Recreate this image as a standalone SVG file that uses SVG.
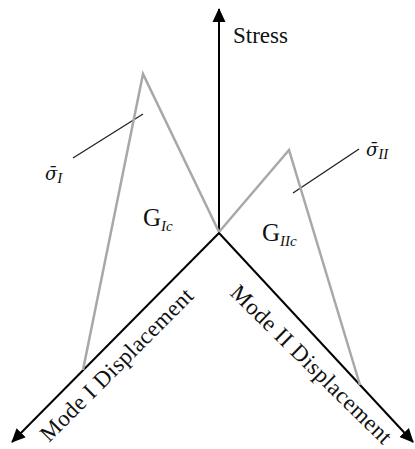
<svg xmlns="http://www.w3.org/2000/svg" width="415" height="449" viewBox="0 0 415 449">
<style>
.axis{stroke:#000;stroke-width:2;fill:none}
.curve{stroke:#a8a8a8;stroke-width:2.5;fill:none;stroke-linejoin:miter}
.leader{stroke:#222;stroke-width:1.3;fill:none}
.t{font-family:"Liberation Serif","Times New Roman",serif;fill:#111}
.lab{font-size:23px}
.sym{font-family:"DejaVu Serif",serif;font-size:18px;font-style:italic}
.sub{font-family:"Liberation Serif","Times New Roman",serif;font-size:15px;font-style:italic}
.g{font-size:25px}
</style>
<defs>
<marker id="ah" viewBox="0 0 14 14" refX="13" refY="7" markerWidth="14" markerHeight="14" markerUnits="userSpaceOnUse" orient="auto">
<path d="M0,0.5 L14,7 L0,13.5 z" fill="#000"/>
</marker>
</defs>
<rect width="415" height="449" fill="#fff"/>
<g id="connectors">
<line class="axis" x1="219" y1="234" x2="219" y2="9" marker-end="url(#ah)"/>
<line class="axis" x1="219" y1="233" x2="12" y2="442" marker-end="url(#ah)"/>
<line class="axis" x1="219" y1="233" x2="413" y2="442" marker-end="url(#ah)"/>
<line class="leader" x1="73" y1="158" x2="143" y2="114"/>
<line class="leader" x1="293" y1="193" x2="359" y2="149"/>
</g>
<g id="curve-mode1">
<polyline class="curve" points="83,370 143,74 219,232"/>
</g>
<g id="curve-mode2">
<polyline class="curve" points="219,232 289,150 360,385"/>
</g>
<g id="label-stress">
<text class="t lab" x="233" y="43">Stress</text>
</g>
<g id="label-mode1">
<text class="t lab" transform="translate(49,443) rotate(-45)" textLength="206" lengthAdjust="spacing">Mode I Displacement</text>
</g>
<g id="label-mode2">
<text class="t lab" transform="translate(229,294) rotate(44.5)" textLength="216" lengthAdjust="spacing">Mode II Displacement</text>
</g>
<g id="label-sigma1">
<text class="t sym" x="45" y="180">σ̄<tspan class="sub" dy="3">I</tspan></text>
</g>
<g id="label-sigma2">
<text class="t sym" x="366" y="156">σ̄<tspan class="sub" dy="3">II</tspan></text>
</g>
<g id="label-g1c">
<text class="t g" x="143" y="226">G<tspan class="sub" dy="5">Ic</tspan></text>
</g>
<g id="label-g2c">
<text class="t g" x="262" y="241">G<tspan class="sub" dy="5">IIc</tspan></text>
</g>
</svg>
